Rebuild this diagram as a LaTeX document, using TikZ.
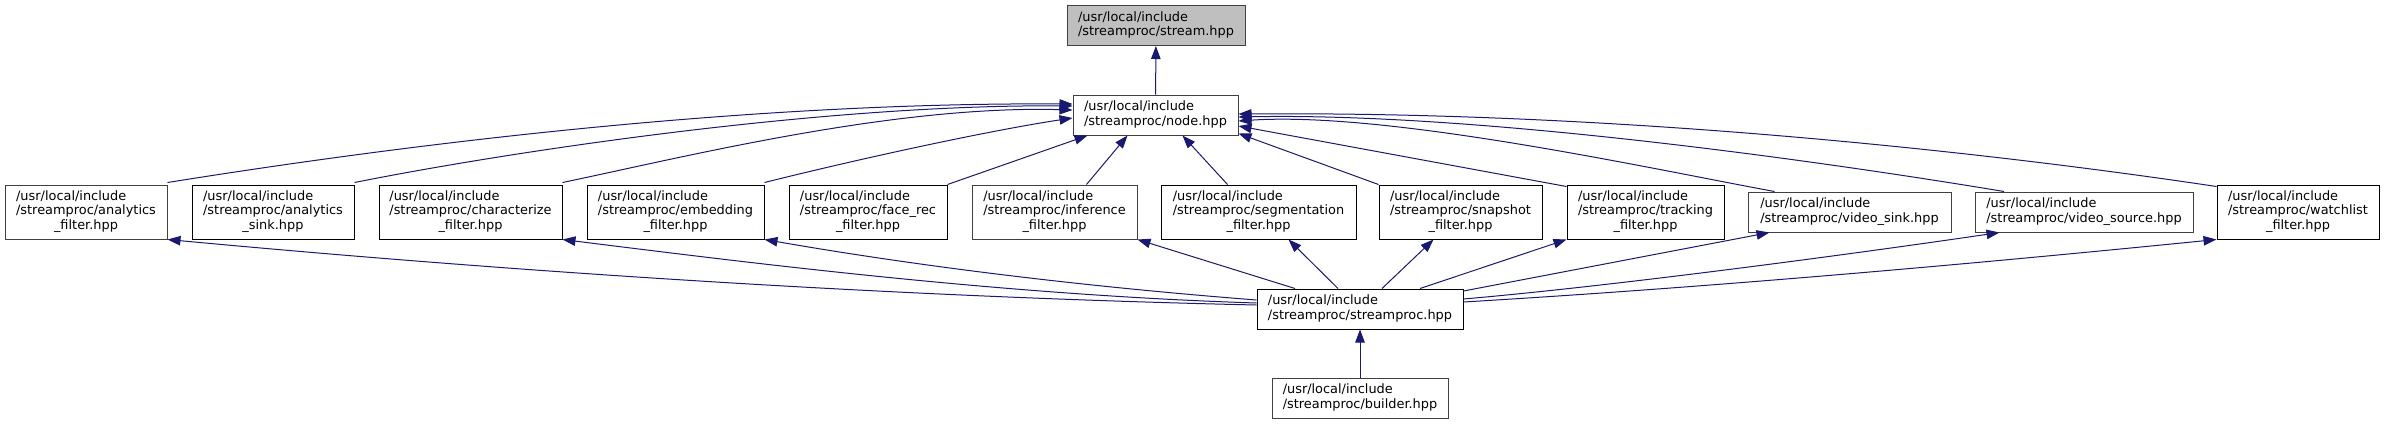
\documentclass[tikz,border=0pt]{standalone}
\usepackage{fontspec}
\setmainfont{DejaVu Sans}
\usetikzlibrary{arrows.meta}
\definecolor{edgeblue}{HTML}{191970}
\definecolor{headgray}{HTML}{BFBFBF}
\definecolor{bordergray}{HTML}{404040}
\newcommand{\hdrtwo}[2]{\begin{tabular}{@{}l@{}}#1\\#2\end{tabular}}
\newcommand{\hdrthree}[3]{\begin{tabular}{@{}l@{}}#1\\#2\\\multicolumn{1}{@{}c@{}}{#3}\end{tabular}}

\begin{document}
\begin{tikzpicture}[
  x=1pt, y=-1pt,
  file/.style={draw=black, line width=1pt, rectangle, inner sep=0pt, minimum height=40pt, fill=white, font=\fontsize{12.9}{14.3}\selectfont},
  tall/.style={minimum height=54pt},
  dim/.style={draw=bordergray},
  top/.style={fill=headgray},
  dep/.style={draw=edgeblue, line width=1pt, -{Triangle[length=13pt,width=9.5pt]}}
]
\useasboundingbox (0,0) rectangle (2385,424);
% top two levels
\node[file, dim, top, minimum width=178pt] (stream) at (1156,25.5) {\hdrtwo{/usr/local/include}{/streamproc/stream.hpp}};
\node[file, dim, minimum width=165pt] (node) at (1155.5,115) {\hdrtwo{/usr/local/include}{/streamproc/node.hpp}};

% middle row
\node[file, dim, tall, minimum width=162pt] (afilt) at (86,212) {\hdrthree{/usr/local/include}{/streamproc/analytics}{\_filter.hpp}};
\node[file, tall, minimum width=162pt] (asink) at (273,212) {\hdrthree{/usr/local/include}{/streamproc/analytics}{\_sink.hpp}};
\node[file, tall, minimum width=183pt] (charf) at (470.5,212) {\hdrthree{/usr/local/include}{/streamproc/characterize}{\_filter.hpp}};
\node[file, tall, minimum width=177pt] (embf) at (675.5,212) {\hdrthree{/usr/local/include}{/streamproc/embedding}{\_filter.hpp}};
\node[file, tall, minimum width=158pt] (facef) at (868,212) {\hdrthree{/usr/local/include}{/streamproc/face\_rec}{\_filter.hpp}};
\node[file, dim, tall, minimum width=165pt] (inff) at (1054.5,212) {\hdrthree{/usr/local/include}{/streamproc/inference}{\_filter.hpp}};
\node[file, tall, minimum width=195pt] (segf) at (1258.5,212) {\hdrthree{/usr/local/include}{/streamproc/segmentation}{\_filter.hpp}};
\node[file, tall, minimum width=163pt] (snapf) at (1460.5,212) {\hdrthree{/usr/local/include}{/streamproc/snapshot}{\_filter.hpp}};
\node[file, tall, minimum width=157pt] (trackf) at (1645.5,212) {\hdrthree{/usr/local/include}{/streamproc/tracking}{\_filter.hpp}};
\node[file, dim, minimum width=203pt] (vsink) at (1849.5,212) {\hdrtwo{/usr/local/include}{/streamproc/video\_sink.hpp}};
\node[file, dim, minimum width=218pt] (vsrc) at (2084,212) {\hdrtwo{/usr/local/include}{/streamproc/video\_source.hpp}};
\node[file, tall, minimum width=162pt] (watchf) at (2298,212) {\hdrthree{/usr/local/include}{/streamproc/watchlist}{\_filter.hpp}};

% bottom
\node[file, minimum width=206pt] (sproc) at (1360,309) {\hdrtwo{/usr/local/include}{/streamproc/streamproc.hpp}};
\node[file, dim, minimum width=176pt] (builder) at (1360,398) {\hdrtwo{/usr/local/include}{/streamproc/builder.hpp}};

% includes of node.hpp
\draw[dep] (node) -- (stream);
\draw[dep] ([yshift=2pt]afilt.north east) .. controls +(200,-32) and +(-350,-2) .. ([yshift=11pt]node.west);
\draw[dep] ([yshift=2pt]asink.north east) .. controls +(150,-30) and +(-250,-2) .. ([yshift=9pt]node.west);
\draw[dep] ([yshift=2pt]charf.north east) .. controls +(120,-25) and +(-180,-5) .. ([yshift=5pt]node.west);
\draw[dep] ([yshift=2pt]embf.north east) .. controls +(100,-25) and +(-80,12) .. ([yshift=-3pt]node.west);
\draw[dep] (facef.north east) -- ([xshift=15pt]node.south west);
\draw[dep] ([xshift=32pt]inff.north) -- ([xshift=-28pt]node.south);
\draw[dep] ([xshift=-31pt]segf.north) -- ([xshift=27pt]node.south);
\draw[dep] (snapf.north west) -- ([yshift=2pt]node.south east);
\draw[dep] ([yshift=-2pt]trackf.north west) -- ([yshift=-11pt]node.east);
\draw[dep] ([xshift=-75pt]vsink.north) .. controls +(-120,-22) and +(150,-10) .. ([yshift=-6pt]node.east);
\draw[dep] ([xshift=-80pt]vsrc.north) .. controls +(-150,-25) and +(250,-5) .. ([yshift=-2pt]node.east);
\draw[dep] ([yshift=-2pt]watchf.north west) .. controls +(-200,-30) and +(400,-3) .. ([yshift=1pt]node.east);

% includes of the middle row
\draw[dep] ([yshift=4pt]sproc.west) .. controls +(-400,-9) and +(300,28) .. (afilt.south east);
\draw[dep] ([yshift=6pt]sproc.west) .. controls +(-250,-8) and +(200,25) .. (charf.south east);
\draw[dep] ([yshift=9pt]sproc.west) .. controls +(-180,-14) and +(150,26) .. (embf.south east);
\draw[dep] ([xshift=-65pt]sproc.north) -- ([xshift=83pt]inff.south);
\draw[dep] ([xshift=-22pt]sproc.north) -- ([xshift=30pt]segf.south);
\draw[dep] ([xshift=22pt]sproc.north) -- ([xshift=-27pt]snapf.south);
\draw[dep] ([xshift=60pt]sproc.north) -- (trackf.south west);
\draw[dep] ([yshift=18pt]sproc.east) -- ([xshift=22pt]vsink.south west);
\draw[dep] ([yshift=10pt]sproc.east) .. controls +(150,-13) and +(-150,22) .. ([xshift=25pt]vsrc.south west);
\draw[dep] ([yshift=7pt]sproc.east) .. controls +(250,-15) and +(-250,25) .. (watchf.south west);
\draw[dep] (builder) -- (sproc);
\end{tikzpicture}
\end{document}
